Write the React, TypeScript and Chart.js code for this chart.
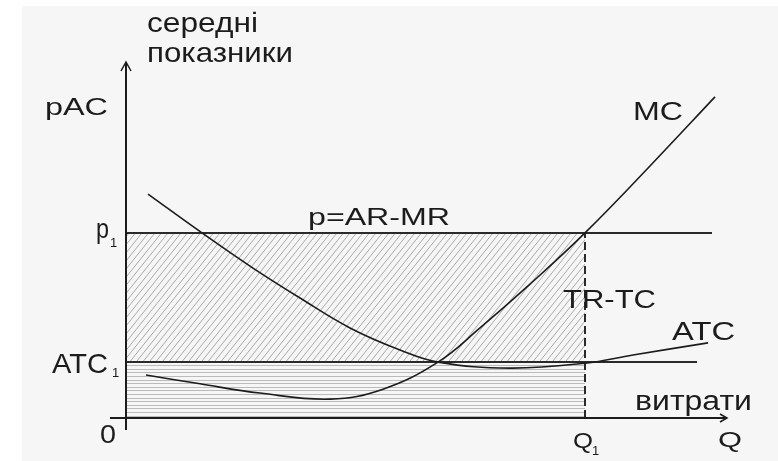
import React, { useEffect, useRef } from "react";
import { Chart, registerables } from "chart.js";

Chart.register(...registerables);

// ---- data (quantity Q, average / marginal cost) ----
const mcQ = [0.4, 1.48, 2.68, 4.08, 5.14, 6.24, 7.08, 8.08, 9.18, 10.48, 11.78];
const mcCost = [1.21, 0.96, 0.7, 0.53, 0.81, 1.57, 2.53, 3.76, 5.2, 7.08, 9.02];
const atcQ = [0.44, 1.52, 2.54, 3.48, 4.48, 5.48, 6.24, 7.68, 9.18, 10.14, 11.64];
const atcCost = [6.29, 5.2, 4.21, 3.37, 2.53, 1.91, 1.57, 1.4, 1.54, 1.77, 2.11];
const priceLevel = 5.2; // p1 = AR = MR
const atcLevel = 1.57; // ATC1
const q1 = 9.18; // Q1
const priceLineEnd = 11.72;
const atcLineEnd = 11.42;

type Lbl = { t: string; x: number; y: number; size: number; w: number };
const labels: Lbl[] = [
  { t: "середні", x: 147, y: 32, size: 28, w: 111 },
  { t: "показники", x: 147, y: 62, size: 28, w: 146 },
  { t: "pAC", x: 45, y: 115, size: 24, w: 63 },
  { t: "MC", x: 633, y: 120, size: 25, w: 50 },
  { t: "p=AR-MR", x: 308, y: 225, size: 24, w: 142 },
  { t: "TR-TC", x: 563, y: 308, size: 25, w: 93 },
  { t: "ATC", x: 672, y: 340, size: 25, w: 63 },
  { t: "витрати", x: 635, y: 410, size: 27, w: 117 },
  { t: "Q", x: 718, y: 447, size: 22, w: 24 },
  { t: "Q", x: 573, y: 448, size: 22, w: 20 },
  { t: "p", x: 96, y: 238, size: 27, w: 13 },
  { t: "ATC", x: 52, y: 373, size: 28, w: 56 },
  { t: "0", x: 100, y: 443, size: 25, w: 16 },
];
const subs = [
  { t: "1", x: 110, y: 247, size: 13 },
  { t: "1", x: 112, y: 377, size: 13 },
  { t: "1", x: 592, y: 455, size: 13 },
];

const FONT = '"Liberation Sans", Arial, sans-serif';
const INK = "#1c1c1c";

const pts = (xs: number[], ys: number[]) => xs.map((x, i) => ({ x, y: ys[i] }));

const diagramPlugin = {
  id: "diagram",
  beforeDraw(chart: any) {
    const ctx = chart.ctx;
    ctx.save();
    ctx.fillStyle = "#ffffff";
    ctx.fillRect(0, 0, chart.width, chart.height);
    ctx.fillStyle = "#f6f6f6";
    ctx.fillRect(22, 6, chart.width - 22, chart.height - 6);
    ctx.restore();
  },
  beforeDatasetsDraw(chart: any) {
    const ctx = chart.ctx;
    const xs = chart.scales.x;
    const ys = chart.scales.y;
    const x0 = xs.getPixelForValue(0);
    const xq = xs.getPixelForValue(q1);
    const yp = ys.getPixelForValue(priceLevel);
    const ya = ys.getPixelForValue(atcLevel);
    const y0 = ys.getPixelForValue(0);
    // diagonal hatch (TR-TC)
    ctx.save();
    ctx.beginPath();
    ctx.rect(x0, yp, xq - x0, ya - yp);
    ctx.clip();
    ctx.strokeStyle = "#aaaaaa";
    ctx.lineWidth = 1;
    const h = ya - yp;
    const k = 0.8;
    for (let sx = x0 - h * k - 10; sx < xq + 10; sx += 6.5) {
      ctx.beginPath();
      ctx.moveTo(sx, ya);
      ctx.lineTo(sx + h * k, yp);
      ctx.stroke();
    }
    ctx.restore();
    // horizontal hatch (costs)
    ctx.save();
    ctx.beginPath();
    ctx.rect(x0, ya, xq - x0, y0 - ya);
    ctx.clip();
    ctx.strokeStyle = "#bbbbbb";
    ctx.lineWidth = 1;
    for (let y = ya + 3; y < y0; y += 3.6) {
      ctx.beginPath();
      ctx.moveTo(x0, Math.round(y) + 0.5);
      ctx.lineTo(xq, Math.round(y) + 0.5);
      ctx.stroke();
    }
    ctx.restore();
  },
  afterDraw(chart: any) {
    const ctx = chart.ctx;
    const xs = chart.scales.x;
    const ys = chart.scales.y;
    const x0 = xs.getPixelForValue(0);
    const y0 = ys.getPixelForValue(0);
    const yTop = ys.getPixelForValue(ys.max);
    const xEnd = xs.getPixelForValue(xs.max) + 1;
    ctx.save();
    ctx.strokeStyle = INK;
    ctx.lineWidth = 2;
    ctx.beginPath();
    ctx.moveTo(x0, y0 + 12);
    ctx.lineTo(x0, yTop);
    ctx.moveTo(x0 - 16, y0);
    ctx.lineTo(xEnd, y0);
    ctx.stroke();
    ctx.lineWidth = 1.5;
    ctx.beginPath();
    ctx.moveTo(x0 - 5, yTop + 9);
    ctx.lineTo(x0, yTop);
    ctx.lineTo(x0 + 5, yTop + 9);
    ctx.moveTo(xEnd - 7, y0 - 4);
    ctx.lineTo(xEnd, y0);
    ctx.lineTo(xEnd - 7, y0 + 4);
    ctx.stroke();
    // labels
    ctx.fillStyle = INK;
    ctx.textBaseline = "alphabetic";
    ctx.textAlign = "left";
    for (const l of labels) {
      ctx.font = `${l.size}px ${FONT}`;
      const m = ctx.measureText(l.t).width;
      ctx.save();
      ctx.translate(l.x, l.y);
      ctx.scale(l.w / m, 1);
      ctx.fillText(l.t, 0, 0);
      ctx.restore();
    }
    for (const s of subs) {
      ctx.font = `${s.size}px ${FONT}`;
      ctx.fillText(s.t, s.x, s.y);
    }
    ctx.restore();
  },
};

export default function App() {
  const ref = useRef<HTMLCanvasElement | null>(null);
  useEffect(() => {
    if (!ref.current) return;
    const lineStyle = {
      borderColor: INK,
      pointRadius: 0,
      fill: false,
      clip: false as any,
    };
    const chart = new Chart(ref.current, {
      type: "line",
      data: {
        datasets: [
          {
            label: "MC",
            data: pts(mcQ, mcCost),
            ...lineStyle,
            borderWidth: 1.6,
            tension: 0.4,
          },
          {
            label: "ATC",
            data: pts(atcQ, atcCost),
            ...lineStyle,
            borderWidth: 1.6,
            tension: 0.4,
          },
          {
            label: "p=AR-MR",
            data: [
              { x: 0, y: priceLevel },
              { x: priceLineEnd, y: priceLevel },
            ],
            ...lineStyle,
            borderColor: "#2a2a2a",
            borderWidth: 2,
          },
          {
            label: "ATC1",
            data: [
              { x: 0, y: atcLevel },
              { x: atcLineEnd, y: atcLevel },
            ],
            ...lineStyle,
            borderColor: "#2a2a2a",
            borderWidth: 2,
          },
          {
            label: "Q1",
            data: [
              { x: q1, y: 0 },
              { x: q1, y: priceLevel },
            ],
            ...lineStyle,
            borderColor: "#2a2a2a",
            borderWidth: 2,
            borderDash: [8, 4],
          },
        ],
      } as any,
      options: {
        animation: false,
        responsive: false,
        maintainAspectRatio: false,
        layout: { padding: { left: 126, right: 52, top: 62, bottom: 43 } },
        scales: {
          x: { type: "linear", min: 0, max: 12, display: false },
          y: { type: "linear", min: 0, max: 10, display: false },
        },
        plugins: {
          legend: { display: false },
          tooltip: { enabled: false },
        },
        events: [],
      } as any,
      plugins: [diagramPlugin],
    });
    return () => chart.destroy();
  }, []);
  return (
    <div style={{ position: "absolute", left: 0, top: 0, width: 778, height: 461 }}>
      <canvas ref={ref} width={778} height={461} style={{ display: "block" }} />
    </div>
  );
}
